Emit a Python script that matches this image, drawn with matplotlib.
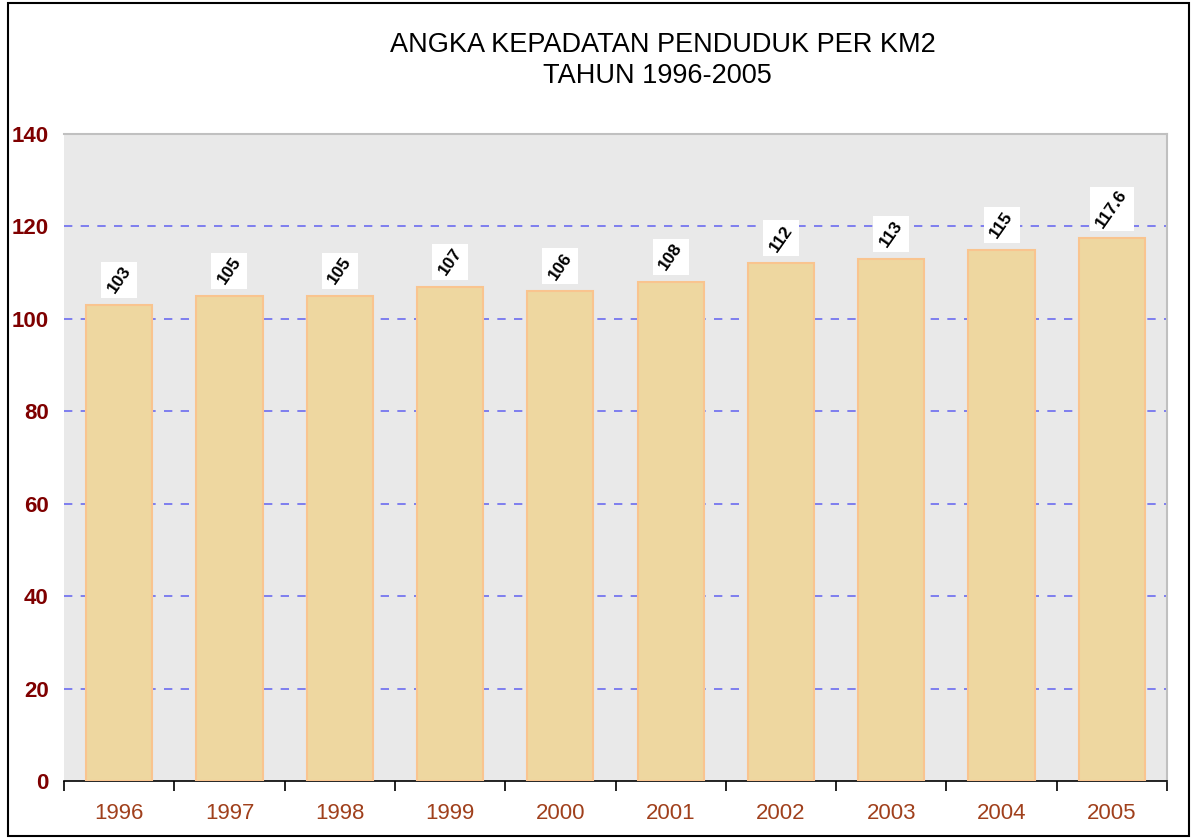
import matplotlib
matplotlib.use("Agg")
import matplotlib.pyplot as plt
from matplotlib.patches import Rectangle

years = ["1996", "1997", "1998", "1999", "2000", "2001", "2002", "2003", "2004", "2005"]
density = [103, 105, 105, 107, 106, 108, 112, 113, 115, 117.6]
labels = ["103", "105", "105", "107", "106", "108", "112", "113", "115", "117.6"]
yticks = [0, 20, 40, 60, 80, 100, 120, 140]

plt.rcParams['font.family'] = ['Liberation Sans', 'DejaVu Sans']

fig = plt.figure(figsize=(11.93, 8.39), dpi=100)
fig.patches.append(Rectangle((8/1193, 3/839), 1181/1193, 833/839, transform=fig.transFigure,
                             fill=False, edgecolor='black', linewidth=1.5))

ax = fig.add_axes([64/1193, 1 - 781/839, (1167-64)/1193, (781-134)/839])
ax.set_facecolor('#e9e9e9')
for side in ['top', 'right']:
    ax.spines[side].set_color('#c0c0c0')
    ax.spines[side].set_linewidth(1.5)
ax.spines['left'].set_visible(False)
ax.spines['bottom'].set_color('black')
ax.spines['bottom'].set_linewidth(1.2)

x = list(range(len(years)))
ax.bar(x, density, width=0.6, color='#eed7a0', edgecolor='#f9c48f', linewidth=1.5, zorder=3)

ax.set_xlim(-0.5, len(years) - 0.5)
ax.set_ylim(0, 140)
ax.set_yticks(yticks)
ax.set_yticklabels([str(t) for t in yticks], color='#7f0000', fontweight='bold', fontsize=16)
ax.tick_params(axis='y', length=0, pad=11)
for t in yticks[1:-1]:
    ax.axhline(t, color='#6b6bf0', linestyle=(0, (5, 5)), linewidth=1.2, zorder=1)

ax.set_xticks([i - 0.5 for i in range(len(years) + 1)], minor=False)
ax.set_xticklabels([])
ax.tick_params(axis='x', length=7, direction='out', color='black', width=1.2)
ax.set_xticks(x, minor=True)
ax.set_xticklabels(years, minor=True, color='#a0401c', fontsize=16)
ax.tick_params(axis='x', which='minor', length=0, pad=16)

# pixels per data unit
ppu = (781 - 134) / 140.0
for xi, v, lab in zip(x, density, labels):
    box_px = 36 if len(lab) <= 3 else 44
    cy = v + (box_px / 2 + 7) / ppu
    ax.scatter([xi], [cy], marker='s', s=(box_px * 0.72) ** 2, color='white',
               edgecolors='none', zorder=4)
    ax.text(xi, cy, lab, rotation=55, ha='center', va='center', fontsize=12.5,
            fontweight='bold', color='black', zorder=5, rotation_mode='anchor')

fig.text(0.556, 1 - 45/839, "ANGKA KEPADATAN PENDUDUK PER KM2", ha='center', va='center', fontsize=19.5)
fig.text(0.551, 1 - 76/839, "TAHUN 1996-2005", ha='center', va='center', fontsize=19.5)

fig.savefig("out.png", dpi=100)
